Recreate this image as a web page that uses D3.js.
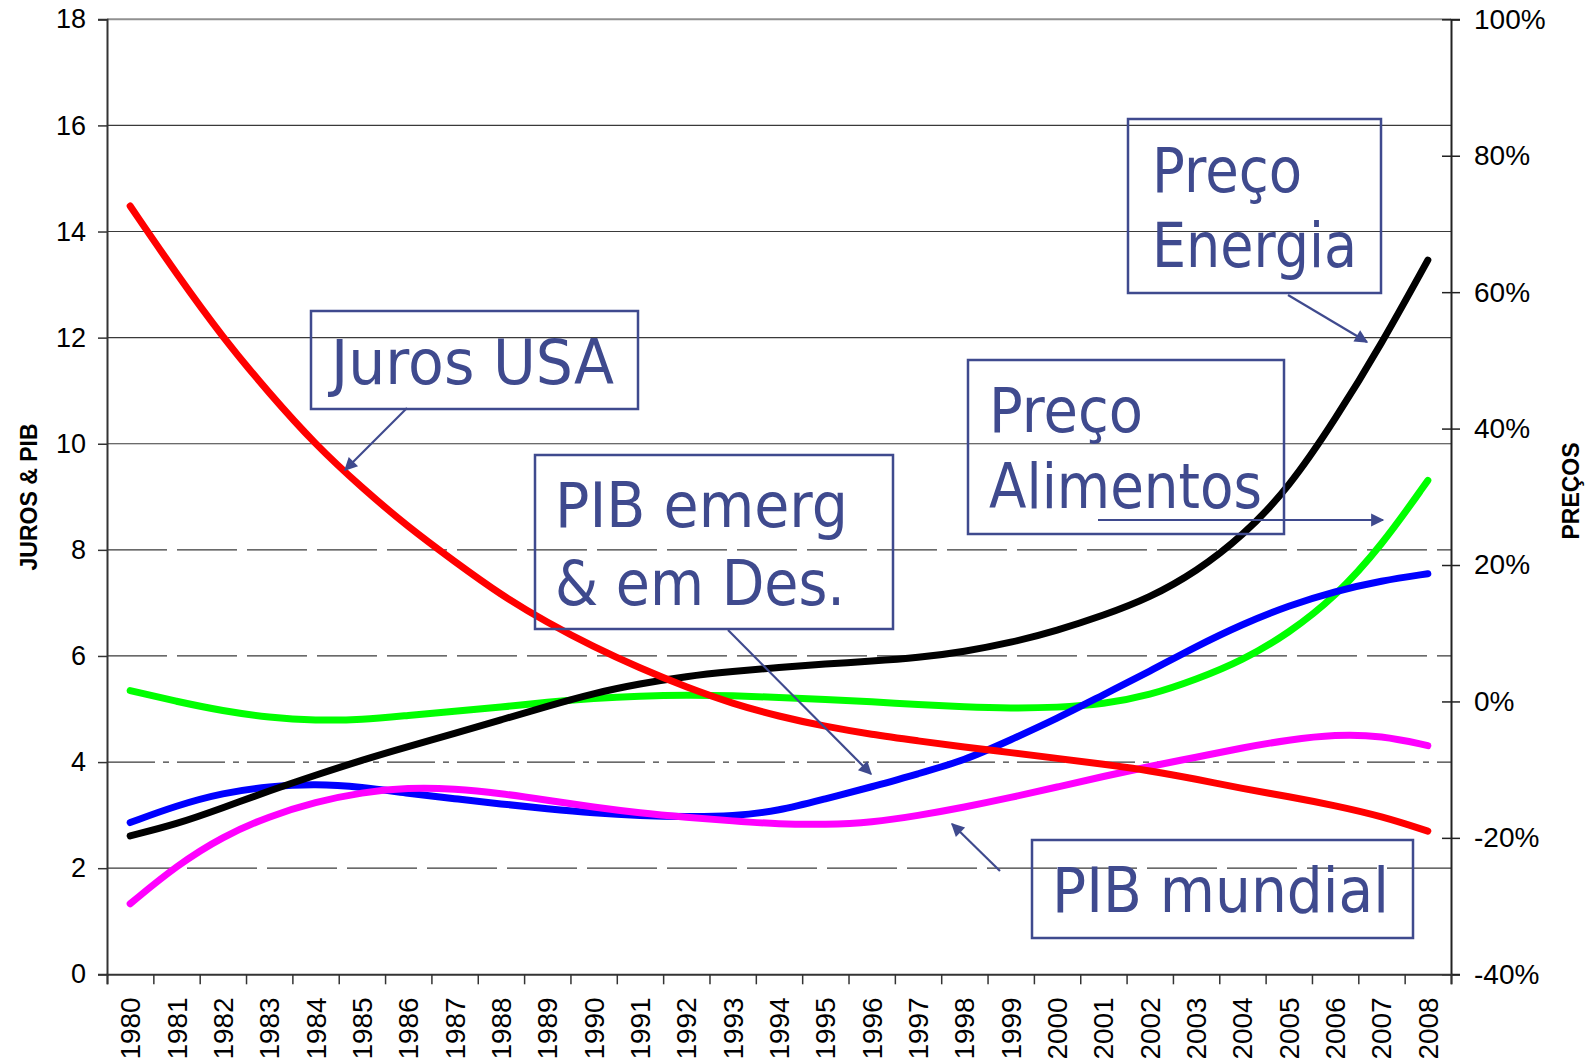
<!DOCTYPE html>
<html>
<head>
<meta charset="utf-8">
<script src="https://cdn.jsdelivr.net/npm/d3@7"></script>
<style>
  body { margin: 0; background: #fff; }
  svg { display: block; }
</style>
</head>
<body>
<svg id="chart" width="1589" height="1063"></svg>
<script>
// categories
var years = ["1980","1981","1982","1983","1984","1985","1986","1987","1988","1989",
             "1990","1991","1992","1993","1994","1995","1996","1997","1998","1999",
             "2000","2001","2002","2003","2004","2005","2006","2007","2008"];

// left axis series (juros & PIB)
var jurosUSA   = [14.48, 13.2, 12.0, 10.95, 9.98, 9.17, 8.43, 7.78, 7.15, 6.63, 6.17, 5.77, 5.41, 5.1, 4.86,
                  4.67, 4.52, 4.4, 4.28, 4.18, 4.07, 3.96, 3.84, 3.68, 3.5, 3.35, 3.18, 2.98, 2.7];
var pibEmerg   = [2.86, 3.18, 3.42, 3.54, 3.59, 3.53, 3.41, 3.31, 3.21, 3.12, 3.04, 2.99, 2.97, 2.98, 3.08,
                  3.31, 3.53, 3.78, 4.03, 4.42, 4.82, 5.27, 5.71, 6.18, 6.6, 6.95, 7.22, 7.42, 7.55];
var pibMundial = [1.33, 2.05, 2.6, 2.98, 3.25, 3.43, 3.52, 3.5, 3.41, 3.28, 3.15, 3.04, 2.96, 2.89, 2.83,
                  2.82, 2.86, 2.99, 3.15, 3.33, 3.53, 3.73, 3.92, 4.09, 4.27, 4.42, 4.52, 4.5, 4.31];

// right axis series (preços, %)
var precoAlimentos = [1.58, 0.0, -1.4, -2.35, -2.8, -2.7, -2.05, -1.45, -0.85, -0.1, 0.45, 0.8, 0.95, 0.85, 0.6,
                      0.3, -0.05, -0.45, -0.8, -1.0, -0.9, -0.4, 0.9, 3.2, 6.0, 10.0, 15.3, 22.8, 32.4];
var precoEnergia   = [-19.7, -18.0, -15.6, -13.1, -10.8, -8.6, -6.6, -4.7, -2.7, -0.7, 1.2, 2.6, 3.7, 4.4, 5.0,
                      5.5, 5.9, 6.4, 7.3, 8.6, 10.4, 12.6, 15.2, 19.0, 24.2, 31.3, 41.3, 52.4, 64.7];

// tick values
var leftTicks  = [0, 2, 4, 6, 8, 10, 12, 14, 16, 18];
var rightTicks = [-40, -20, 0, 20, 40, 60, 80, 100];

var svg = d3.select("#chart");
var plotL = 107, plotR = 1451, plotT = 19.3, plotB = 974.3;
var annColor = "#3f4a8e";

var x = d3.scaleBand().domain(years).range([plotL, plotR]);
var xEdge = d3.scaleLinear().domain([0, years.length]).range([plotL, plotR]);
var yL = d3.scaleLinear().domain([0, 18]).range([plotB, plotT]);
var yR = d3.scaleLinear().domain([-40, 100]).range([plotB, plotT]);

// gridlines
var grid = svg.append("g");
grid.selectAll("line")
    .data(leftTicks.filter(function(d) { return d > 0 && d < 18; }))
    .enter().append("line")
    .attr("x1", plotL).attr("x2", plotR)
    .attr("y1", function(d) { return yL(d); })
    .attr("y2", function(d) { return yL(d); })
    .attr("stroke", "#3a3a3a")
    .attr("stroke-width", 1.2)
    .attr("stroke-dasharray", function(d) {
        if (d == 2) return "70,10";
        if (d == 4) return "48,8,6,8";
        if (d == 6 || d == 8) return "60,10";
        return null;
    });

// top border
svg.append("line")
    .attr("x1", plotL).attr("x2", plotR)
    .attr("y1", plotT).attr("y2", plotT)
    .attr("stroke", "#909090").attr("stroke-width", 2);

// left axis
var axL = svg.append("g")
    .attr("transform", "translate(" + plotL + ",0)")
    .call(d3.axisLeft(yL).tickValues(leftTicks).tickSize(9).tickPadding(12));
axL.select(".domain").attr("stroke", "#333").attr("stroke-width", 2);
axL.selectAll(".tick line").attr("stroke", "#333").attr("stroke-width", 1.5);
axL.selectAll("text")
    .attr("font-family", "Liberation Sans, Arial, sans-serif")
    .attr("font-size", 27).attr("fill", "#000");

// right axis (ticks cross the axis line)
var axR = svg.append("g")
    .attr("transform", "translate(" + plotR + ",0)")
    .call(d3.axisRight(yR).tickValues(rightTicks).tickSize(9).tickPadding(14)
        .tickFormat(function(d) { return d + "%"; }));
axR.select(".domain").attr("stroke", "#222").attr("stroke-width", 2);
axR.selectAll(".tick line").attr("x1", -9).attr("stroke", "#222").attr("stroke-width", 1.5);
axR.selectAll("text")
    .attr("font-family", "Liberation Sans, Arial, sans-serif")
    .attr("font-size", 28).attr("fill", "#000");

// bottom axis: boundary ticks
var axB = svg.append("g")
    .attr("transform", "translate(0," + plotB + ")")
    .call(d3.axisBottom(xEdge).ticks(years.length).tickSize(10).tickFormat(""));
axB.select(".domain").attr("stroke", "#333").attr("stroke-width", 2);
axB.selectAll(".tick line").attr("stroke", "#333").attr("stroke-width", 1.5);

// year labels, rotated
svg.append("g").selectAll("text")
    .data(years)
    .enter().append("text")
    .attr("transform", function(d) {
        return "translate(" + (x(d) + x.bandwidth() / 2 + 10) + "," + (plotB + 23) + ") rotate(-90)";
    })
    .attr("text-anchor", "end")
    .attr("font-family", "Liberation Sans, Arial, sans-serif")
    .attr("font-size", 28)
    .text(function(d) { return d; });

// axis titles
svg.append("text")
    .attr("transform", "translate(37,497) rotate(-90)")
    .attr("text-anchor", "middle")
    .attr("font-family", "Liberation Sans, Arial, sans-serif")
    .attr("font-weight", "bold").attr("font-size", 23)
    .text("JUROS & PIB");
svg.append("text")
    .attr("transform", "translate(1579,491) rotate(-90)")
    .attr("text-anchor", "middle")
    .attr("font-family", "Liberation Sans, Arial, sans-serif")
    .attr("font-weight", "bold").attr("font-size", 23)
    .text("PREÇOS");

// series lines (smoothed like the original trend curves)
var cx = function(i) { return x(years[i]) + x.bandwidth() / 2; };
var series = [
    { values: precoAlimentos, scale: yR, color: "#00ff00" },
    { values: pibEmerg,       scale: yL, color: "#0000ff" },
    { values: pibMundial,     scale: yL, color: "#ff00ff" },
    { values: precoEnergia,   scale: yR, color: "#000000" },
    { values: jurosUSA,       scale: yL, color: "#ff0000" }
];
svg.append("g").selectAll("path")
    .data(series)
    .enter().append("path")
    .attr("fill", "none")
    .attr("stroke", function(d) { return d.color; })
    .attr("stroke-width", 7)
    .attr("stroke-linecap", "round")
    .attr("stroke-linejoin", "round")
    .attr("d", function(s) {
        return d3.line()
            .x(function(v, i) { return cx(i); })
            .y(function(v) { return s.scale(v); })
            .curve(d3.curveBasis)(s.values);
    });

// annotations
var defs = svg.append("defs");
defs.append("marker")
    .attr("id", "arrow")
    .attr("viewBox", "0 0 10 10")
    .attr("refX", 9).attr("refY", 5)
    .attr("markerWidth", 7).attr("markerHeight", 6)
    .attr("markerUnits", "strokeWidth")
    .attr("orient", "auto")
    .append("path")
    .attr("d", "M0,0 L10,5 L0,10 z")
    .attr("fill", annColor);

var boxes = [
    { x: 311, y: 311, w: 327, h: 98, lines: [["Juros USA", 331, 384, 283]],
      arrow: [407, 408, 345, 470] },
    { x: 535, y: 455, w: 358, h: 174, lines: [["PIB emerg", 555, 527, 293], ["& em Des.", 555, 605, 290]],
      arrow: [728, 630, 871, 774] },
    { x: 1128, y: 119, w: 253, h: 174, lines: [["Preço", 1152, 192, 150], ["Energia", 1152, 267, 205]],
      arrow: [1288, 295, 1367, 342] },
    { x: 968, y: 360, w: 316, h: 174, lines: [["Preço", 989, 432, 154], ["Alimentos", 989, 508, 273]],
      arrow: [1098, 520, 1383, 520] },
    { x: 1032, y: 840, w: 381, h: 98, lines: [["PIB mundial", 1052, 912, 337]],
      arrow: [1000, 871, 952, 824] }
];

var ann = svg.append("g").selectAll("g").data(boxes).enter().append("g");
ann.append("rect")
    .attr("x", function(d) { return d.x; })
    .attr("y", function(d) { return d.y; })
    .attr("width", function(d) { return d.w; })
    .attr("height", function(d) { return d.h; })
    .attr("fill", "none")
    .attr("stroke", annColor).attr("stroke-width", 2.5);
ann.append("line")
    .attr("x1", function(d) { return d.arrow[0]; })
    .attr("y1", function(d) { return d.arrow[1]; })
    .attr("x2", function(d) { return d.arrow[2]; })
    .attr("y2", function(d) { return d.arrow[3]; })
    .attr("stroke", annColor).attr("stroke-width", 2.2)
    .attr("marker-end", "url(#arrow)");
ann.selectAll("text")
    .data(function(d) { return d.lines; })
    .enter().append("text")
    .attr("x", function(d) { return d[1]; })
    .attr("y", function(d) { return d[2]; })
    .attr("textLength", function(d) { return d[3]; })
    .attr("lengthAdjust", "spacingAndGlyphs")
    .attr("font-family", "DejaVu Sans, Verdana, sans-serif")
    .attr("font-size", 62)
    .attr("fill", annColor)
    .text(function(d) { return d[0]; });
</script>
</body>
</html>
